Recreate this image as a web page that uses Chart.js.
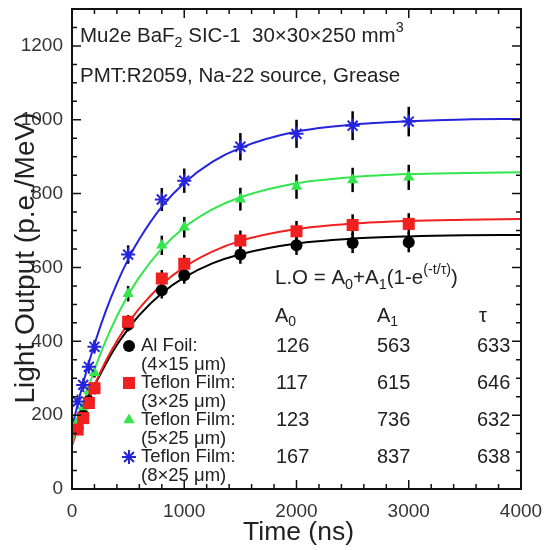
<!DOCTYPE html>
<html>
<head>
<meta charset="utf-8">
<script src="https://cdn.jsdelivr.net/npm/chart.js@4.4.1/dist/chart.umd.min.js"></script>
<style>
  body { margin: 0; background: #fff; overflow: hidden; }
  #wrap { width: 547px; height: 550px; }
</style>
</head>
<body>
<div id="wrap"><canvas id="chart"></canvas></div>
<script>
// Measured points (time in ns)
const timePoints = [50, 100, 150, 200, 500, 800, 1000, 1500, 2000, 2500, 3000];
const alFoil   = [165, 200, 238, 272, 445, 538, 579, 635, 660, 666, 668];
const teflon3  = [161, 192, 233, 273, 453, 570, 610, 673, 698, 715, 718];
const teflon5  = [183, 222, 266, 315, 529, 660, 709, 785, 819, 837, 844];
const teflon8  = [237, 282, 331, 385, 635, 784, 835, 927, 962, 984, 995];
const alFoilErr  = [7, 8, 10, 11, 18, 22, 23, 25, 26, 27, 27];
const teflon3Err = [6, 8, 9, 11, 18, 23, 24, 27, 28, 29, 29];
const teflon5Err = [7, 9, 11, 13, 21, 26, 28, 31, 33, 33, 34];
const teflon8Err = [9, 11, 13, 15, 25, 31, 33, 37, 38, 39, 40];

// Fit curves
const fitTime    = [0, 100, 200, 300, 400, 500, 600, 800, 1000, 1250, 1500, 2000, 2500, 3000, 3500, 4000];
const alFoilFit  = [126, 208, 279, 338, 390, 433, 471, 530, 573, 611, 636, 665, 678, 684, 687, 688];
const teflon3Fit = [117, 205, 281, 346, 401, 448, 489, 554, 601, 643, 672, 704, 719, 726, 729, 731];
const teflon5Fit = [123, 231, 323, 401, 468, 525, 574, 651, 708, 757, 790, 828, 845, 853, 856, 858];
const teflon8Fit = [167, 288, 392, 481, 557, 622, 677, 765, 829, 886, 924, 968, 987, 996, 1001, 1002];

// Fit parameters table
const labelsTop = ['Al Foil:', 'Teflon Film:', 'Teflon Film:', 'Teflon Film:'];
const labelsSub = ['(4\u00d715 \u03bcm)', '(3\u00d725 \u03bcm)', '(5\u00d725 \u03bcm)', '(8\u00d725 \u03bcm)'];
const fitA0  = [126, 117, 123, 167];
const fitA1  = [563, 615, 736, 837];
const fitTau = [633, 646, 632, 638];

// Axis ticks
const xTicks = [0, 1000, 2000, 3000, 4000];
const yTicks = [0, 200, 400, 600, 800, 1000, 1200];

const FONT = '"Liberation Sans", Arial, Helvetica, sans-serif';
const COLORS = ['#000000', '#f02020', '#33e64d', '#2424dc'];
const STYLES = ['circle', 'rect', 'triangle', 'star'];
const RADII = [6, 8.5, 6.5, 7];

const pointSets = [alFoil, teflon3, teflon5, teflon8];
const errSets = [alFoilErr, teflon3Err, teflon5Err, teflon8Err];
const fitSets = [alFoilFit, teflon3Fit, teflon5Fit, teflon8Fit];

function toXY(xs, ys) {
    return xs.map((x, i) => ({ x: x, y: ys[i] }));
}

// datasets: index 0 is drawn on top, so markers first (blue on top), curves after
const datasets = [];
[3, 1, 2, 0].forEach(i => {
    datasets.push({
        label: 'pts' + i,
        data: toXY(timePoints, pointSets[i]),
        showLine: false,
        pointStyle: STYLES[i],
        pointRadius: RADII[i],
        pointBackgroundColor: COLORS[i],
        pointBorderColor: COLORS[i],
        pointBorderWidth: i === 3 ? 2 : 0
    });
});
[3, 2, 1, 0].forEach(i => {
    datasets.push({
        label: 'fit' + i,
        data: toXY(fitTime, fitSets[i]),
        showLine: true,
        borderColor: COLORS[i],
        borderWidth: 2,
        pointRadius: 0,
        cubicInterpolationMode: 'monotone'
    });
});

function drawRich(ctx, parts, x, y, size) {
    let cx = x;
    parts.forEach(([txt, mode]) => {
        const s = mode === 'n' ? size : size * 0.7;
        const dy = mode === 'sub' ? size * 0.32 : (mode === 'sup' ? -size * 0.38 : 0);
        ctx.font = s + 'px ' + FONT;
        ctx.fillText(txt, cx, y + dy);
        cx += ctx.measureText(txt).width;
    });
}

function drawMarker(ctx, style, x, y, r, color) {
    ctx.save();
    ctx.fillStyle = color;
    ctx.strokeStyle = color;
    ctx.lineWidth = 2;
    ctx.beginPath();
    if (style === 'circle') {
        ctx.arc(x, y, r, 0, Math.PI * 2);
        ctx.fill();
    } else if (style === 'rect') {
        const s = Math.SQRT1_2 * r;
        ctx.fillRect(x - s, y - s, 2 * s, 2 * s);
    } else if (style === 'triangle') {
        ctx.moveTo(x, y - r);
        ctx.lineTo(x + r * 0.866, y + r * 0.5);
        ctx.lineTo(x - r * 0.866, y + r * 0.5);
        ctx.closePath();
        ctx.fill();
    } else {
        for (let k = 0; k < 4; k++) {
            const a = k * Math.PI / 4;
            ctx.moveTo(x - r * Math.cos(a), y - r * Math.sin(a));
            ctx.lineTo(x + r * Math.cos(a), y + r * Math.sin(a));
        }
        ctx.stroke();
    }
    ctx.restore();
}

const errorBars = {
    id: 'errorBars',
    beforeDatasetsDraw(chart) {
        const { ctx, scales: { x, y } } = chart;
        ctx.save();
        ctx.strokeStyle = '#000';
        ctx.lineWidth = 2.5;
        pointSets.forEach((vals, i) => {
            vals.forEach((v, j) => {
                const px = x.getPixelForValue(timePoints[j]);
                ctx.beginPath();
                ctx.moveTo(px, y.getPixelForValue(v - errSets[i][j]));
                ctx.lineTo(px, y.getPixelForValue(v + errSets[i][j]));
                ctx.stroke();
            });
        });
        ctx.restore();
    }
};

const frameAndText = {
    id: 'frameAndText',
    afterDraw(chart) {
        const { ctx, chartArea: a, scales: { x, y } } = chart;
        ctx.save();
        // frame
        ctx.strokeStyle = '#111';
        ctx.lineWidth = 2;
        ctx.strokeRect(a.left, a.top, a.right - a.left, a.bottom - a.top);
        // inward ticks
        ctx.lineWidth = 1.5;
        ctx.beginPath();
        for (let v = 0; v <= 1300; v += 50) {
            const py = y.getPixelForValue(v);
            const len = v % 200 === 0 ? 9 : 5;
            ctx.moveTo(a.left, py); ctx.lineTo(a.left + len, py);
            ctx.moveTo(a.right, py); ctx.lineTo(a.right - len, py);
        }
        for (let v = 0; v <= 4000; v += 200) {
            const px = x.getPixelForValue(v);
            const len = v % 1000 === 0 ? 9 : 5;
            ctx.moveTo(px, a.bottom); ctx.lineTo(px, a.bottom - len);
            ctx.moveTo(px, a.top); ctx.lineTo(px, a.top + len);
        }
        ctx.stroke();

        ctx.fillStyle = '#222';
        ctx.textBaseline = 'middle';
        ctx.textAlign = 'left';
        // header text
        drawRich(ctx, [['Mu2e BaF', 'n'], ['2', 'sub'], [' SIC-1  30\u00d730\u00d7250 mm', 'n'], ['3', 'sup']], 80, 36, 20.5);
        drawRich(ctx, [['PMT:R2059, Na-22 source, Grease', 'n']], 80, 76, 20.5);
        // formula
        drawRich(ctx, [['L.O = A', 'n'], ['0', 'sub'], ['+A', 'n'], ['1', 'sub'], ['(1-e', 'n'], ['(-t/\u03c4)', 'sup'], [')', 'n']], 275, 278, 20.5);
        // table header
        drawRich(ctx, [['A', 'n'], ['0', 'sub']], 275, 316, 20);
        drawRich(ctx, [['A', 'n'], ['1', 'sub']], 377, 316, 20);
        drawRich(ctx, [['\u03c4', 'n']], 479, 316, 20);
        // rows
        for (let i = 0; i < 4; i++) {
            const ry = 346 + i * 37;
            drawMarker(ctx, STYLES[i], 129, ry, RADII[i], COLORS[i]);
            ctx.fillStyle = '#222';
            ctx.font = '18.5px ' + FONT;
            ctx.fillText(labelsTop[i], 141, ry);
            ctx.fillText(labelsSub[i], 141, ry + 19);
            ctx.font = '20px ' + FONT;
            ctx.fillText(String(fitA0[i]), 276, ry);
            ctx.fillText(String(fitA1[i]), 377, ry);
            ctx.fillText(String(fitTau[i]), 477, ry);
        }
        // axis titles
        ctx.fillStyle = '#222';
        ctx.textAlign = 'center';
        ctx.textBaseline = 'alphabetic';
        ctx.font = '26.5px ' + FONT;
        ctx.fillText('Time (ns)', (a.left + a.right) / 2 + 2, 540);
        ctx.font = '28px ' + FONT;
        ctx.translate(34, 258);
        ctx.rotate(-Math.PI / 2);
        ctx.fillText('Light Output (p.e./MeV)', 0, 0);
        ctx.restore();
    }
};

function noPad(s) {
    s.paddingTop = 0;
    s.paddingBottom = 0;
    s.paddingLeft = 0;
    s.paddingRight = 0;
}

new Chart(document.getElementById('chart'), {
    type: 'scatter',
    data: { datasets: datasets },
    options: {
        responsive: true,
        maintainAspectRatio: false,
        animation: false,
        layout: { padding: { top: 6, right: 26, left: 0, bottom: 0 } },
        plugins: { legend: { display: false }, tooltip: { enabled: false } },
        scales: {
            x: {
                type: 'linear',
                min: 0,
                max: 4000,
                afterBuildTicks: s => { s.ticks = xTicks.map(v => ({ value: v })); },
                afterFit: s => { s.height = 61; noPad(s); },
                grid: { display: false, drawTicks: false },
                border: { display: false },
                ticks: { font: { family: FONT, size: 19 }, color: '#333', padding: 11, maxRotation: 0, callback: v => String(v) }
            },
            y: {
                type: 'linear',
                min: 0,
                max: 1300,
                afterBuildTicks: s => { s.ticks = yTicks.map(v => ({ value: v })); },
                afterFit: s => { s.width = 72; noPad(s); },
                grid: { display: false, drawTicks: false },
                border: { display: false },
                ticks: { font: { family: FONT, size: 19 }, color: '#333', padding: 9, callback: v => String(v) }
            }
        }
    },
    plugins: [errorBars, frameAndText]
});
</script>
</body>
</html>
